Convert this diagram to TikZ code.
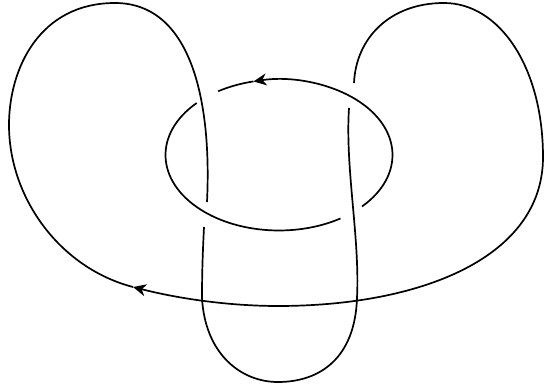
\documentclass[tikz,border=0pt]{standalone}
\usetikzlibrary{arrows.meta}
\begin{document}
\begin{tikzpicture}[x=1pt,y=1pt,
  knot/.style={line width=1.7pt},
  tipend/.style={-{Stealth[length=13pt,width=12pt,inset=4pt]}},
  tipstart/.style={{Stealth[length=13pt,width=12pt,inset=4pt]}-}]
\useasboundingbox (0,0) rectangle (544,388);
\coordinate (c) at (279,233);
% ellipse component
\draw[knot,tipend] (c) ++(-43:113.5 and 75.5) coordinate (e1)
  arc[start angle=-43,end angle=103,x radius=113.5,y radius=75.5] coordinate (ea);
\draw[knot] (ea) arc[start angle=103,end angle=122.4,x radius=113.5,y radius=75.5];
\draw[knot] (c) ++(136.5:113.5 and 75.5) coordinate (e2)
  arc[start angle=136.5,end angle=302.8,x radius=113.5,y radius=75.5];
% big component
\coordinate (a0) at (207,186);
\coordinate (a1) at (115,385);
\coordinate (a2) at (9,263);
\coordinate (a3) at (133,101);
\coordinate (a4) at (278,82);
\coordinate (a5) at (543,231);
\coordinate (a6) at (444,385);
\coordinate (a7) at (354,305);
\draw[knot] (a0) .. controls (212,290) and (190,385) .. (a1)
  .. controls (40,385) and (9,320) .. (a2)
  .. controls (9,190) and (60,120) .. (a3);
\draw[knot,tipstart] (a3) .. controls (180,89) and (230,82) .. (a4)
  .. controls (420,82) and (543,130) .. (a5)
  .. controls (543,320) and (500,385) .. (a6)
  .. controls (390,385) and (356,350) .. (a7);
\coordinate (b0) at (349,280);
\coordinate (b1) at (357,90);
\coordinate (b2) at (278,6);
\coordinate (b3) at (202,90);
\coordinate (b4) at (204,161);
\draw[knot] (b0) .. controls (345,220) and (360,150) .. (b1)
  .. controls (355,30) and (320,6) .. (b2)
  .. controls (240,6) and (205,35) .. (b3)
  .. controls (202,120) and (203,140) .. (b4);
\end{tikzpicture}
\end{document}
